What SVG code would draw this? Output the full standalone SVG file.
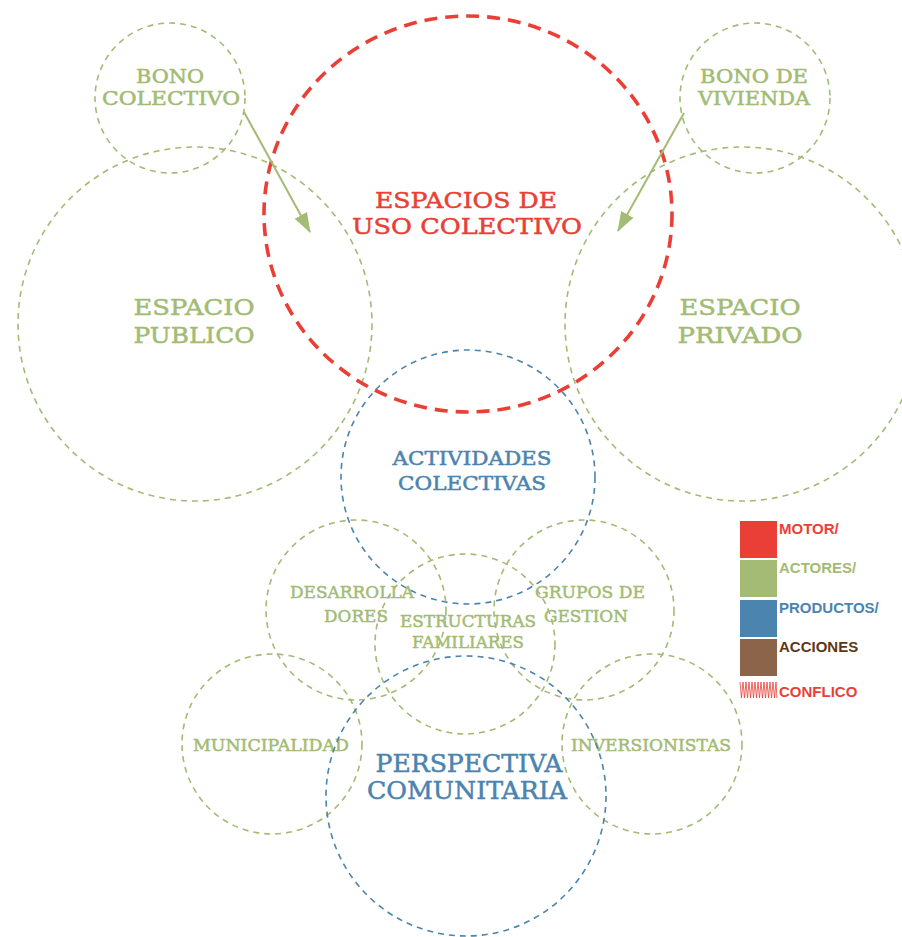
<svg xmlns="http://www.w3.org/2000/svg" width="902" height="937" viewBox="0 0 902 937">
<style>
.g{fill:none;stroke:#a3bb74;stroke-width:1.6;stroke-dasharray:6 5}
.b{fill:none;stroke:#4b84ae;stroke-width:1.6;stroke-dasharray:6 5}
.r{fill:none;stroke:#ea3f36;stroke-width:3.6;stroke-dasharray:13 8}
text{font-family:"DejaVu Serif","Liberation Serif",serif;text-anchor:middle;stroke-width:0.5}
.tg{fill:#a3bb74;stroke:#a3bb74}
.tb{fill:#4b84ae;stroke:#4b84ae}
.tr{fill:#ea3f36;stroke:#ea3f36}
.lg{font-family:"Liberation Sans",Arial,sans-serif;font-weight:bold;font-size:15px;text-anchor:start;stroke:none}
.arr{stroke:#a3bb74;stroke-width:2;fill:none}
</style>
<defs>
<marker id="ah2" viewBox="0 0 20 14" refX="19" refY="7" markerWidth="20" markerHeight="14" markerUnits="userSpaceOnUse" orient="auto">
<path d="M0,0 L20,7 L0,14 z" fill="#a3bb74"/>
</marker>
</defs>

<g id="espacio-publico"><circle class="g" cx="195" cy="324" r="177"/>
<text class="tg" font-size="23" x="194" y="315" textLength="121" lengthAdjust="spacingAndGlyphs">ESPACIO</text>
<text class="tg" font-size="23" x="194" y="343" textLength="121" lengthAdjust="spacingAndGlyphs">PUBLICO</text></g>

<g id="espacio-privado"><circle class="g" cx="742" cy="324" r="177"/>
<text class="tg" font-size="23" x="740" y="315" textLength="121" lengthAdjust="spacingAndGlyphs">ESPACIO</text>
<text class="tg" font-size="23" x="740" y="343" textLength="125" lengthAdjust="spacingAndGlyphs">PRIVADO</text></g>

<g id="bono-colectivo"><circle class="g" cx="170" cy="98" r="75"/>
<text class="tg" font-size="18" x="170" y="83" textLength="68" lengthAdjust="spacingAndGlyphs">BONO</text>
<text class="tg" font-size="18" x="171" y="105" textLength="138" lengthAdjust="spacingAndGlyphs">COLECTIVO</text></g>

<g id="bono-vivienda"><circle class="g" cx="755" cy="98" r="75"/>
<text class="tg" font-size="18" x="754" y="83" textLength="108" lengthAdjust="spacingAndGlyphs">BONO DE</text>
<text class="tg" font-size="18" x="754" y="105" textLength="112" lengthAdjust="spacingAndGlyphs">VIVIENDA</text></g>

<g id="actividades-colectivas"><circle class="b" cx="468" cy="477" r="127"/>
<text class="tb" font-size="19" x="472" y="465" textLength="159" lengthAdjust="spacingAndGlyphs">ACTIVIDADES</text>
<text class="tb" font-size="19" x="472" y="490" textLength="148" lengthAdjust="spacingAndGlyphs">COLECTIVAS</text></g>

<g id="desarrolladores"><circle class="g" cx="356" cy="610" r="90"/>
<text class="tg" font-size="17" x="352" y="598" textLength="124" lengthAdjust="spacingAndGlyphs">DESARROLLA</text>
<text class="tg" font-size="17" x="356" y="622" textLength="64" lengthAdjust="spacingAndGlyphs">DORES</text></g>

<g id="grupos-gestion"><circle class="g" cx="584" cy="610" r="90"/>
<text class="tg" font-size="17" x="590" y="598" textLength="110" lengthAdjust="spacingAndGlyphs">GRUPOS DE</text>
<text class="tg" font-size="17" x="586" y="622" textLength="84" lengthAdjust="spacingAndGlyphs">GESTION</text></g>

<g id="estructuras-familiares"><circle class="g" cx="465" cy="644" r="90"/>
<text class="tg" font-size="17" x="468" y="627" textLength="136" lengthAdjust="spacingAndGlyphs">ESTRUCTURAS</text>
<text class="tg" font-size="17" x="468" y="648" textLength="112" lengthAdjust="spacingAndGlyphs">FAMILIARES</text></g>

<g id="municipalidad"><circle class="g" cx="272" cy="744" r="90"/>
<text class="tg" font-size="17" x="271" y="751" textLength="156" lengthAdjust="spacingAndGlyphs">MUNICIPALIDAD</text></g>

<g id="inversionistas"><circle class="g" cx="652" cy="744" r="90"/>
<text class="tg" font-size="17" x="651" y="751" textLength="160" lengthAdjust="spacingAndGlyphs">INVERSIONISTAS</text></g>

<g id="perspectiva-comunitaria"><circle class="b" cx="466" cy="796" r="140"/>
<text class="tb" font-size="24" x="469" y="772" textLength="187" lengthAdjust="spacingAndGlyphs">PERSPECTIVA</text>
<text class="tb" font-size="24" x="467" y="799" textLength="200" lengthAdjust="spacingAndGlyphs">COMUNITARIA</text></g>

<g id="espacios-uso-colectivo"><ellipse class="r" cx="468" cy="214" rx="204" ry="198"/>
<text class="tr" font-size="23" x="466" y="208" textLength="182" lengthAdjust="spacingAndGlyphs">ESPACIOS DE</text>
<text class="tr" font-size="23" x="467" y="234" textLength="230" lengthAdjust="spacingAndGlyphs">USO COLECTIVO</text></g>

<g id="connectors">
<line class="arr" x1="244" y1="112" x2="310" y2="232" marker-end="url(#ah2)"/>
<line class="arr" x1="684" y1="113" x2="618" y2="231" marker-end="url(#ah2)"/>
</g>

<g id="legend">
<rect x="740" y="521" width="37" height="37" fill="#ea3f36"/>
<rect x="740" y="560" width="37" height="37" fill="#a3bb74"/>
<rect x="740" y="600" width="37" height="37" fill="#4b84ae"/>
<rect x="740" y="639" width="37" height="37" fill="#8b6449"/>
<polyline fill="none" stroke="#ea3f36" stroke-width="0.8" points="740,682 741.5,698 743,682 744.5,698 746,682 747.5,698 749,682 750.5,698 752,682 753.5,698 755,682 756.5,698 758,682 759.5,698 761,682 762.5,698 764,682 765.5,698 767,682 768.5,698 770,682 771.5,698 773,682 774.5,698 776,682 777,698"/>
<text class="lg" x="779" y="534" fill="#ea3f36">MOTOR/</text>
<text class="lg" x="779" y="573" fill="#a3bb74">ACTORES/</text>
<text class="lg" x="779" y="613" fill="#4b84ae">PRODUCTOS/</text>
<text class="lg" x="779" y="652" fill="#5e3714">ACCIONES</text>
<text class="lg" x="779" y="697" fill="#ea3f36">CONFLICO</text>
</g>
</svg>
